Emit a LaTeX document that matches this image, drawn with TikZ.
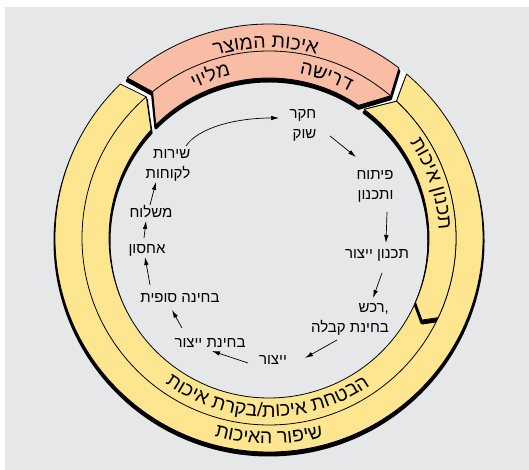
\documentclass[tikz,border=0pt]{standalone}
\usepackage{fontspec}
\setmainfont[Script=Hebrew]{Liberation Sans}
\TeXXeTstate=1
\usetikzlibrary{arrows.meta,decorations.text}
\definecolor{bg}{HTML}{E6E7E9}
\definecolor{pinkfill}{HTML}{F9BDA6}
\definecolor{yellowfill}{HTML}{FEE691}
\newcommand{\heb}[1]{\beginR#1\endR}
\begin{document}
\begin{tikzpicture}[x=1pt,y=1pt,line join=round]
\def\Ro{214}\def\Rm{187}\def\Ri{160}
\tikzset{
 pA/.style={insert path={(52.6:\Ro) arc[start angle=52.6, end angle=131.5, radius=\Ro] -- (128.5:\Rm) -- (135:\Ri) arc[start angle=135, end angle=56, radius=\Ri] -- (49.5:\Rm) -- cycle}},
 pB/.style={insert path={(134:\Ro) arc[start angle=134, end angle=410, radius=\Ro] -- (47:\Rm) -- (53.5:\Ri) arc[start angle=413.5, end angle=137.5, radius=\Ri] -- (131:\Rm) -- cycle}},
 pC/.style={insert path={(47:\Rm) -- (53.5:\Ri) arc[start angle=53.5, end angle=-23.7, radius=\Ri] -- (-28.2:173.6) -- (-25.2:\Rm) arc[start angle=-25.2, end angle=47, radius=\Rm] -- cycle}},
 shade3d/.style={fill=black, draw=black, line width=3pt, shift={(0,-3)}},
 piece/.style={draw=black, line width=0.8pt},
 lbl/.style={font=\fontsize{15}{20}\selectfont, inner sep=0pt, align=right},
 arr/.style={-{Latex[length=8pt,width=4.5pt]}, line width=0.7pt},
 curved/.style={decorate, decoration={text along path, text align=center, text={|\fontsize{19.5}{19.5}\selectfont|#1}}},
}
\useasboundingbox (0,0) rectangle (529,470);
\fill[bg] (5,0) rectangle (529,463);
\begin{scope}[shift={(269,232)}]
  % white gaps
  \fill[white] (131.5:\Ro) -- (128.5:\Rm) -- (135:\Ri) -- (137.5:\Ri) -- (131:\Rm) -- (134:\Ro) -- cycle;
  \fill[white] (52.6:\Ro) -- (49.5:\Rm) -- (56:\Ri) -- (53.5:\Ri) -- (47:\Rm) -- (50:\Ro) -- cycle;
  % shadows
  \filldraw[shade3d, pA];
  \filldraw[shade3d, pB];
  % big yellow piece
  \filldraw[fill=yellowfill, piece, pB];
  \draw[line width=0.8pt] (131:\Rm) arc[start angle=131, end angle=407, radius=\Rm];
  % quality planning piece
  \begin{scope}
    \clip (0,0) circle (\Rm);
    \filldraw[shade3d, pC];
  \end{scope}
  \filldraw[fill=yellowfill, piece, pC];
  % pink piece
  \filldraw[fill=pinkfill, piece, pA];
  \draw[line width=0.8pt] (49.5:\Rm) arc[start angle=49.5, end angle=128.5, radius=\Rm];
  % curved labels (characters placed one by one from left to right, so given in visual order)
  \path[curved={רצומה תוכיא}] (126:190) arc[start angle=126, end angle=56, radius=190];
  \path[curved={השירד}] (100.5:167) arc[start angle=100.5, end angle=40.5, radius=167];
  \path[curved={יוילמ}] (139.8:167) arc[start angle=139.8, end angle=79.8, radius=167];
  \path[curved={תוכיא ןונכת}] (63.5:170) arc[start angle=63.5, end angle=-26.5, radius=170];
  \path[curved={תוכיא תרקב/תוכיא תחטבה}] (194.5:179) arc[start angle=194.5, end angle=344.5, radius=179];
  \path[curved={תוכיאה רופיש}] (215:206) arc[start angle=215, end angle=325, radius=206];
\end{scope}
\begin{scope}[shift={(0,470)}, y=-1pt]
  \node[lbl] (shuk) at (303,125) {\heb{חקר}\\\heb{שוק}};
  \node[lbl] (pituach) at (375,186) {\heb{פיתוח}\\\heb{ותכנון}};
  \node[lbl] (tichnun) at (377,255) {\heb{תכנון ייצור}};
  \node[lbl] (rechesh) at (350,319) {\heb{רכש},\\\heb{בחינת קבלה}};
  \node[lbl] (yitzur) at (273,360) {\heb{ייצור}};
  \node[lbl] (bchinaY) at (210,343) {\heb{בחינת ייצור}};
  \node[lbl] (sofit) at (180,298) {\heb{בחינה סופית}};
  \node[lbl] (ichsun) at (147,250) {\heb{אחסון}};
  \node[lbl] (mishloach) at (151,212) {\heb{משלוח}};
  \node[lbl] (sherut) at (168,165) {\heb{שירות}\\\heb{לקוחות}};
  \coordinate (a1s) at (186,146); \coordinate (a1e) at (279,118);
  \coordinate (a2s) at (330,136); \coordinate (a2e) at (356,157);
  \coordinate (a3s) at (387,212); \coordinate (a3e) at (386,243);
  \coordinate (a4s) at (382,273); \coordinate (a4e) at (373,298);
  \coordinate (a5s) at (337,340); \coordinate (a5e) at (305,358);
  \coordinate (a6s) at (248,363); \coordinate (a6e) at (212,351);
  \coordinate (a7s) at (182,328); \coordinate (a7e) at (172,310);
  \coordinate (a8s) at (150,285); \coordinate (a8e) at (145,257);
  \coordinate (a9s) at (144,238); \coordinate (a9e) at (146,221);
  \coordinate (a10s) at (150,205); \coordinate (a10e) at (156,182);
  \draw[arr] (a1s) .. controls (198,128) and (235,118) .. (a1e);
  \draw[arr] (a2s) -- (a2e);
  \draw[arr] (a3s) -- (a3e);
  \draw[arr] (a4s) -- (a4e);
  \draw[arr] (a5s) -- (a5e);
  \draw[arr] (a6s) -- (a6e);
  \draw[arr] (a7s) -- (a7e);
  \draw[arr] (a8s) -- (a8e);
  \draw[arr] (a9s) -- (a9e);
  \draw[arr] (a10s) -- (a10e);
\end{scope}
\end{tikzpicture}
\end{document}
